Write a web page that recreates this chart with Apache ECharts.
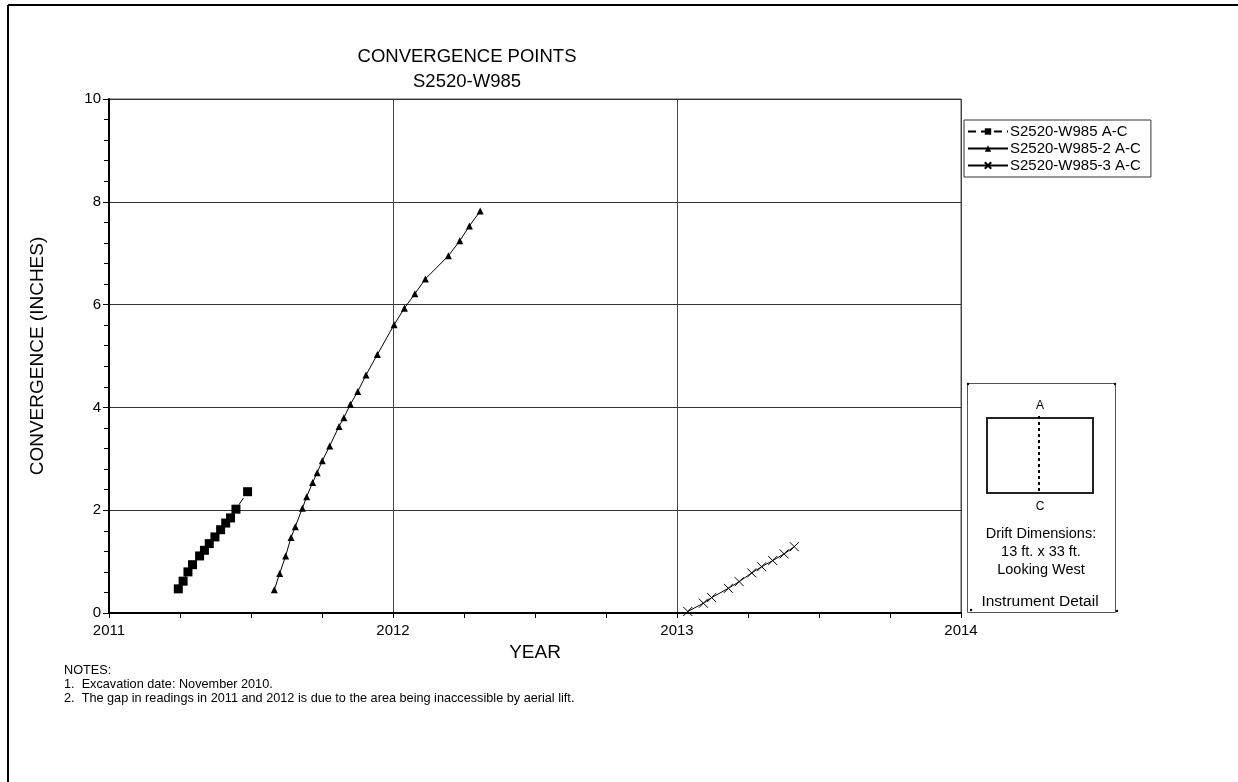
<!DOCTYPE html>
<html>
<head>
<meta charset="utf-8">
<script src="https://cdn.jsdelivr.net/npm/echarts@6/dist/echarts.min.js"></script>
<style>
html,body{margin:0;padding:0;background:#fff;}
#chart{width:1238px;height:782px;}
</style>
</head>
<body>
<div id="chart"></div>
<script>
// ---- Data (decimal year, convergence inches) ----
var seriesNames = ['S2520-W985 A-C', 'S2520-W985-2 A-C', 'S2520-W985-3 A-C'];
var s1Years = [2011.244, 2011.261, 2011.278, 2011.294, 2011.319, 2011.336, 2011.353, 2011.373, 2011.393, 2011.411, 2011.428, 2011.447, 2011.488];
var s1Values = [0.47, 0.62, 0.80, 0.94, 1.11, 1.22, 1.35, 1.48, 1.62, 1.75, 1.85, 2.02, 2.36];
var s2Years = [2011.582, 2011.601, 2011.622, 2011.641, 2011.656, 2011.681, 2011.696, 2011.717, 2011.733, 2011.751, 2011.777, 2011.810, 2011.827, 2011.850, 2011.876, 2011.905, 2011.945, 2012.004, 2012.040, 2012.077, 2012.114, 2012.195, 2012.235, 2012.269, 2012.307];
var s2Values = [0.45, 0.77, 1.11, 1.47, 1.68, 2.04, 2.26, 2.54, 2.73, 2.96, 3.25, 3.63, 3.80, 4.06, 4.31, 4.63, 5.03, 5.61, 5.93, 6.21, 6.50, 6.95, 7.24, 7.53, 7.82];
var s3Years = [2013.038, 2013.093, 2013.122, 2013.181, 2013.219, 2013.263, 2013.298, 2013.337, 2013.377, 2013.413];
var s3Values = [0.03, 0.19, 0.30, 0.48, 0.61, 0.78, 0.90, 1.02, 1.15, 1.29];
var yearTicks = [2011, 2012, 2013, 2014];
var titleLines = ['CONVERGENCE POINTS', 'S2520-W985'];
var notes = ['NOTES:', '1.  Excavation date: November 2010.', '2.  The gap in readings in 2011 and 2012 is due to the area being inaccessible by aerial lift.'];
var detailLines = ['Drift Dimensions:', '13 ft. x 33 ft.', 'Looking West'];

function pairs(xs, ys) { return xs.map(function (x, i) { return [x, ys[i]]; }); }

var FONT = 'Liberation Sans, Arial, sans-serif';
var chart = echarts.init(document.getElementById('chart'), null, {renderer: 'canvas'});

var option = {
  animation: false,
  backgroundColor: '#fff',
  textStyle: {fontFamily: FONT, color: '#000'},
  grid: {left: 109, right: 277, top: 99, bottom: 169, show: true, borderColor: '#555', borderWidth: 1, backgroundColor: 'transparent'},
  legend: {
    orient: 'vertical', left: 964, top: 120,
    itemWidth: 40, itemHeight: 8, itemGap: 2,
    padding: [4, 10, 4, 3],
    borderColor: '#333', borderWidth: 1, borderRadius: 0,
    textStyle: {fontFamily: FONT, fontSize: 15, lineHeight: 15, color: '#000', padding: [0, 0, 0, -3]},
    data: seriesNames
  },
  xAxis: {
    type: 'value', min: 2011, max: 2014, interval: 1,
    name: 'YEAR', nameLocation: 'middle', nameGap: 29,
    nameTextStyle: {fontFamily: FONT, fontSize: 19, color: '#000'},
    axisLine: {show: true, onZero: false, lineStyle: {color: '#000', width: 2}},
    axisTick: {show: true, inside: false, length: 5, lineStyle: {color: '#000'}},
    minorTick: {show: true, splitNumber: 4, length: 5, lineStyle: {color: '#000'}},
    axisLabel: {fontFamily: FONT, fontSize: 15, color: '#000', margin: 10,
      formatter: function (v) { return yearTicks.indexOf(Math.round(v)) >= 0 ? String(Math.round(v)) : ''; }},
    splitLine: {show: true, lineStyle: {color: '#444', width: 1}}
  },
  yAxis: {
    type: 'value', min: 0, max: 10, interval: 2,
    name: 'CONVERGENCE (INCHES)', nameLocation: 'middle', nameGap: 62, nameRotate: 90,
    nameTextStyle: {fontFamily: FONT, fontSize: 19, color: '#000'},
    axisLine: {show: true, onZero: false, lineStyle: {color: '#000', width: 2}},
    axisTick: {show: true, inside: false, length: 6, lineStyle: {color: '#000'}},
    minorTick: {show: true, splitNumber: 5, length: 5, lineStyle: {color: '#000'}},
    axisLabel: {fontFamily: FONT, fontSize: 15, color: '#000', margin: 8},
    splitLine: {show: true, lineStyle: {color: '#333', width: 1}}
  },
  series: [
    {
      name: seriesNames[0], type: 'line', data: pairs(s1Years, s1Values),
      symbol: 'rect', symbolSize: 9,
      lineStyle: {color: '#000', width: 1, type: [8, 5]},
      itemStyle: {color: '#000'}
    },
    {
      name: seriesNames[1], type: 'line', data: pairs(s2Years, s2Values),
      symbol: 'triangle', symbolSize: 7,
      lineStyle: {color: '#000', width: 1},
      itemStyle: {color: '#000'}
    },
    {
      name: seriesNames[2], type: 'line', data: pairs(s3Years, s3Values),
      symbol: 'path://M0,0L10,10M10,0L0,10', symbolSize: 9,
      lineStyle: {color: '#000', width: 1},
      itemStyle: {color: 'rgba(0,0,0,0)', borderColor: '#000', borderWidth: 1}
    }
  ],
  graphic: [
    // outer frame
    {type: 'line', shape: {x1: 8, y1: 5, x2: 1238, y2: 5}, style: {stroke: '#000', lineWidth: 2}},
    {type: 'line', shape: {x1: 8, y1: 5, x2: 8, y2: 782}, style: {stroke: '#000', lineWidth: 2}},
    // title
    {type: 'text', x: 467, y: 57, style: {text: titleLines[0], font: '18.5px ' + FONT, fill: '#000', textAlign: 'center', textVerticalAlign: 'middle'}},
    {type: 'text', x: 467, y: 82, style: {text: titleLines[1], font: '18.5px ' + FONT, fill: '#000', textAlign: 'center', textVerticalAlign: 'middle'}},
    // notes
    {type: 'text', x: 64, y: 670, style: {text: notes[0], font: '12.7px ' + FONT, fill: '#000', textVerticalAlign: 'middle'}},
    {type: 'text', x: 64, y: 684, style: {text: notes[1], font: '12.7px ' + FONT, fill: '#000', textVerticalAlign: 'middle'}},
    {type: 'text', x: 64, y: 698, style: {text: notes[2], font: '12.7px ' + FONT, fill: '#000', textVerticalAlign: 'middle'}},
    // instrument detail box
    {type: 'rect', shape: {x: 967.5, y: 383.5, width: 148, height: 229}, style: {fill: 'none', stroke: '#555', lineWidth: 1}},
    {type: 'circle', shape: {cx: 968, cy: 384, r: 1.2}, style: {fill: '#000'}},
    {type: 'circle', shape: {cx: 1115, cy: 384, r: 1.2}, style: {fill: '#000'}},
    {type: 'circle', shape: {cx: 971, cy: 610, r: 1.2}, style: {fill: '#000'}},
    {type: 'circle', shape: {cx: 1117, cy: 611, r: 1.2}, style: {fill: '#000'}},
    {type: 'rect', shape: {x: 987, y: 418, width: 106, height: 75}, style: {fill: 'none', stroke: '#222', lineWidth: 2}},
    {type: 'line', shape: {x1: 1039, y1: 416, x2: 1039, y2: 494}, style: {stroke: '#000', lineWidth: 2, lineDash: [3, 3]}},
    {type: 'text', x: 1040, y: 406, style: {text: 'A', font: '12px ' + FONT, fill: '#000', textAlign: 'center', textVerticalAlign: 'middle'}},
    {type: 'text', x: 1040, y: 507, style: {text: 'C', font: '12px ' + FONT, fill: '#000', textAlign: 'center', textVerticalAlign: 'middle'}},
    {type: 'text', x: 1041, y: 534, style: {text: detailLines[0], font: '14.5px ' + FONT, fill: '#000', textAlign: 'center', textVerticalAlign: 'middle'}},
    {type: 'text', x: 1041, y: 552, style: {text: detailLines[1], font: '14.5px ' + FONT, fill: '#000', textAlign: 'center', textVerticalAlign: 'middle'}},
    {type: 'text', x: 1041, y: 570, style: {text: detailLines[2], font: '14.5px ' + FONT, fill: '#000', textAlign: 'center', textVerticalAlign: 'middle'}},
    {type: 'text', x: 1040, y: 602, style: {text: 'Instrument Detail', font: '15.5px ' + FONT, fill: '#000', textAlign: 'center', textVerticalAlign: 'middle'}}
  ]
};
chart.setOption(option);
</script>
</body>
</html>
